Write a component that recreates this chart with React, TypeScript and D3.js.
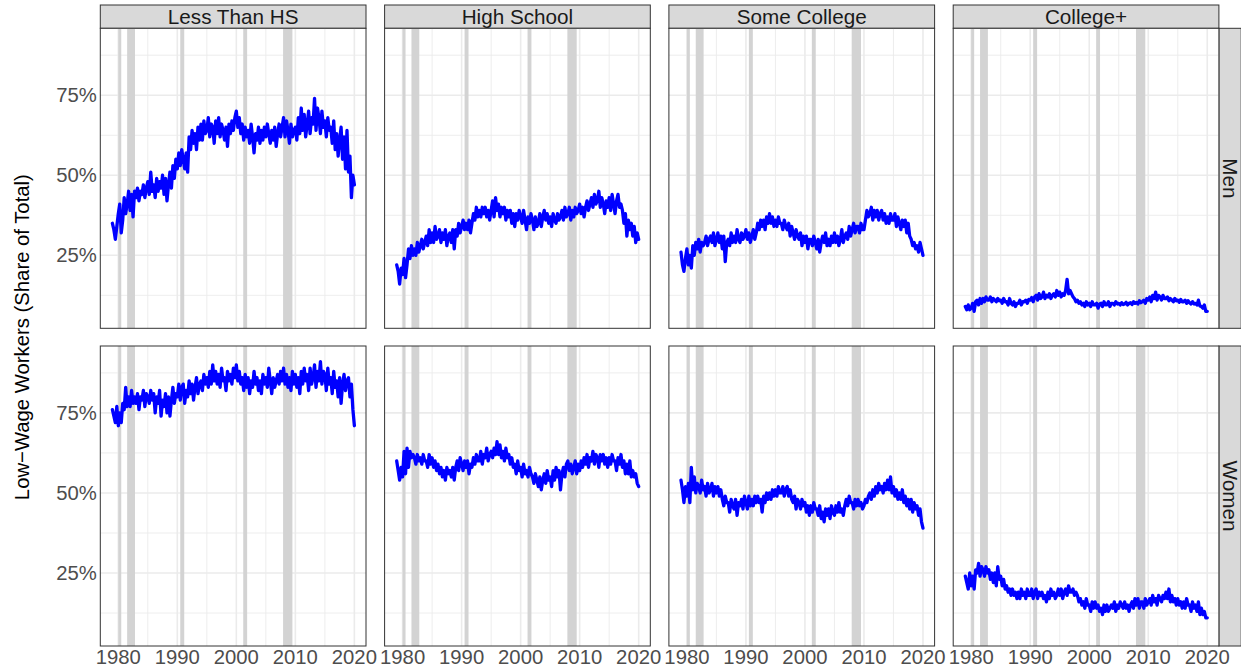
import React from "react";
import * as d3 from "d3";

// ---------- data ----------
const education = ["Less Than HS", "High School", "Some College", "College+"];
const sexes = ["Men", "Women"];

const startYear = 1979;
const stepsPerYear = 4;

const menLessThanHS = [
  35, 33, 30, 34, 38, 41, 32, 36, 43, 38, 41, 45, 39, 44, 37, 45,
  43, 46, 42, 45, 44, 47, 43, 46, 48, 44, 51, 45, 47, 43, 49, 45,
  48, 46, 50, 44, 49, 42, 47, 51, 46, 53, 49, 55, 52, 57, 53, 58,
  55, 52, 57, 51, 62, 58, 64, 60, 63, 58, 65, 61, 66, 61, 67, 63,
  64, 68, 62, 66, 65, 60, 67, 63, 68, 62, 66, 64, 61, 65, 59, 66,
  63, 67, 64, 68, 70, 65, 68, 63, 66, 61, 65, 62, 64, 60, 66, 62,
  57, 63, 61, 65, 60, 64, 61, 65, 62, 66, 63, 60, 64, 61, 65, 59,
  63, 66, 62, 65, 68, 62, 67, 64, 60, 66, 62, 64, 65, 61, 68, 63,
  71, 64, 69, 62, 66, 70, 63, 68, 66, 74, 64, 71, 68, 63, 70, 65,
  67, 62, 68, 64, 65, 60, 67, 58, 63, 56, 61, 65, 55, 62, 52, 64,
  51, 56, 43, 50, 47,
];
const menHighSchool = [
  22, 20, 16, 21, 19, 24, 18, 22, 27, 24, 28, 25, 27, 25, 29, 26,
  28, 30, 27, 29, 31, 28, 33, 29, 32, 29, 34, 30, 31, 33, 29, 32,
  30, 33, 28, 31, 32, 29, 33, 27, 33, 31, 35, 32, 34, 36, 33, 35,
  33, 36, 32, 35, 38, 36, 40, 37, 39, 37, 40, 38, 40, 37, 39, 36,
  39, 42, 37, 43, 39, 41, 37, 40, 38, 40, 36, 39, 37, 39, 35, 38,
  34, 38, 36, 39, 37, 35, 39, 36, 33, 37, 35, 38, 36, 33, 37, 34,
  35, 38, 34, 37, 39, 36, 38, 35, 37, 34, 38, 36, 35, 38, 36, 37,
  39, 36, 40, 37, 38, 40, 36, 39, 37, 40, 38, 39, 41, 38, 40, 37,
  40, 42, 39, 41, 43, 40, 44, 41, 42, 45, 40, 43, 41, 38, 42, 40,
  43, 39, 44, 41, 38, 42, 44, 40, 41, 39, 35, 38, 31, 36, 33, 35,
  31, 34, 29, 32, 30,
];
const menSomeCollege = [
  26, 22, 20, 24, 27, 22, 25, 21, 28, 25, 29, 27, 30, 26, 29, 28,
  29, 31, 28, 30, 31, 29, 32, 28, 30, 32, 29, 31, 27, 31, 23, 29,
  30, 28, 32, 29, 31, 29, 33, 30, 29, 32, 30, 31, 33, 30, 32, 29,
  31, 33, 30, 32, 35, 33, 36, 34, 36, 33, 37, 35, 38, 35, 37, 34,
  36, 34, 37, 35, 35, 33, 36, 34, 33, 35, 31, 34, 32, 30, 33, 31,
  30, 32, 28, 31, 29, 31, 27, 30, 30, 28, 31, 29, 27, 30, 26, 29,
  31, 29, 32, 28, 30, 28, 31, 29, 32, 29, 31, 28, 30, 33, 29, 31,
  32, 30, 34, 31, 33, 35, 32, 34, 34, 32, 35, 33, 33, 36, 39, 37,
  38, 40, 36, 39, 37, 39, 36, 38, 39, 36, 38, 35, 37, 35, 38, 36,
  36, 38, 34, 37, 35, 33, 36, 34, 36, 32, 35, 31, 30, 28, 29, 27,
  28, 26, 29, 27, 25,
];
const menCollegePlus = [
  9, 8, 9.5, 8, 8.5, 10, 7.5, 10.5, 11, 9.5, 11.5, 10, 11.5, 10.5, 12, 11,
  11, 12, 10.5, 11.5, 11, 10.5, 11.5, 10.8, 11, 10, 11.5, 10.5, 10.5, 9.5, 11.5, 10,
  9.5, 10.5, 9, 10, 10, 11, 9.5, 10.5, 10.5, 11, 10, 11.2, 11, 11.8, 10.5, 12,
  12.5, 11, 13, 11.5, 12, 13.5, 11.5, 12.5, 12, 13, 11.5, 12.5, 13, 12, 14, 12.5,
  13.5, 12, 13, 12.5, 14, 17.5, 13, 14, 13, 12, 11.5, 10.5, 11, 10, 10.5, 9.5,
  10, 9, 10.5, 9.5, 10, 9, 10.5, 9.5, 9.5, 10, 8.5, 9.8, 10, 9, 10.5, 9.5,
  9.5, 10.5, 9, 10, 10, 9.5, 10.5, 9.8, 10, 9.5, 10.2, 9.6, 9.8, 10.3, 9.5, 10,
  10.2, 9.6, 10.5, 10, 10.3, 9.8, 10.8, 10.2, 10.5, 11, 10, 11.5, 11, 12, 10.5, 12.5,
  11.5, 13.5, 11, 12.5, 12, 11, 12.5, 11.5, 11.5, 12, 10.8, 11.5, 11, 10.5, 11.5, 10.8,
  11, 10.3, 11.2, 10.5, 10.5, 11, 10, 10.8, 10.2, 9.8, 10.5, 9.8, 10, 9.5, 11, 9.2,
  9, 8.5, 9.5, 7.5, 7.5,
];
const womenLessThanHS = [
  76, 74, 72, 77, 71, 75, 72, 78, 76, 83, 77, 80, 77, 82, 78, 80,
  78, 81, 76, 80, 79, 82, 77, 81, 80, 78, 82, 79, 81, 75, 80, 78,
  82, 74, 79, 77, 81, 75, 80, 74, 79, 83, 78, 81, 80, 84, 79, 83,
  84, 78, 82, 80, 85, 81, 84, 79, 83, 86, 81, 84, 85, 82, 87, 84,
  86, 83, 88, 84, 90, 85, 88, 84, 87, 83, 89, 85, 86, 82, 88, 85,
  87, 84, 89, 86, 90, 85, 88, 84, 86, 82, 87, 83, 86, 81, 85, 83,
  88, 84, 86, 82, 85, 81, 87, 84, 86, 83, 89, 85, 81, 86, 83, 85,
  87, 84, 88, 85, 89, 84, 87, 83, 86, 82, 88, 84, 87, 83, 86, 81,
  88, 84, 89, 85, 87, 82, 89, 84, 86, 90, 83, 88, 85, 91, 84, 88,
  87, 82, 89, 84, 86, 81, 88, 83, 85, 80, 86, 78, 84, 87, 82, 85,
  86, 80, 84, 76, 71,
];
const womenHighSchool = [
  60, 57, 54, 58, 55, 63, 56, 64, 58, 63, 61, 62, 61, 59, 62, 60,
  61, 59, 62, 60, 60, 58, 62, 59, 61, 58, 60, 57, 59, 56, 58, 55,
  57, 54, 58, 56, 57, 55, 58, 54, 58, 60, 57, 61, 59, 57, 60, 58,
  60, 56, 59, 58, 61, 59, 62, 60, 60, 63, 59, 62, 61, 64, 60, 62,
  63, 61, 64, 62, 66, 62, 65, 61, 63, 60, 64, 61, 62, 59, 61, 58,
  59, 56, 60, 57, 58, 55, 59, 56, 57, 55, 58, 56, 55, 53, 56, 54,
  52, 55, 51, 54, 56, 53, 57, 54, 55, 52, 57, 54, 58, 55, 57, 51,
  56, 58, 55, 59, 60, 57, 59, 56, 58, 60, 56, 59, 57, 60, 58, 61,
  59, 62, 58, 61, 60, 63, 59, 62, 61, 58, 62, 60, 62, 59, 61, 58,
  61, 59, 62, 60, 60, 57, 61, 59, 62, 58, 60, 56, 59, 56, 60, 55,
  57, 55, 56, 53, 52,
];
const womenSomeCollege = [
  54, 51, 47, 52, 49, 53, 47, 58, 51, 55, 50, 53, 52, 50, 54, 51,
  52, 49, 53, 50, 51, 53, 49, 52, 50, 52, 49, 51, 48, 46, 49, 47,
  47, 44, 48, 46, 45, 48, 43, 47, 46, 48, 45, 49, 47, 45, 49, 46,
  48, 46, 49, 47, 49, 47, 48, 44, 49, 47, 50, 48, 50, 48, 51, 49,
  51, 49, 52, 50, 50, 52, 49, 51, 52, 49, 51, 48, 47, 49, 45, 48,
  47, 45, 48, 46, 47, 44, 46, 43, 46, 44, 47, 45, 45, 43, 46, 42,
  44, 41, 45, 43, 45, 42, 46, 44, 43, 46, 44, 47, 44, 45, 43, 46,
  48, 46, 49, 47, 47, 45, 48, 46, 48, 46, 47, 45, 46, 48, 47, 49,
  50, 48, 51, 49, 52, 50, 53, 51, 52, 50, 53, 51, 54, 51, 55, 50,
  52, 49, 51, 48, 50, 48, 51, 47, 49, 46, 48, 45, 48, 44, 47, 45,
  46, 43, 45, 41, 39,
];
const womenCollegePlus = [
  24, 22, 20, 25, 21, 24, 20, 26, 25, 28, 24, 27, 26, 24, 27, 25,
  26, 23, 25, 22, 25, 21, 27, 23, 24, 21, 23, 20, 21, 19, 20, 18,
  20, 18, 19, 17, 19, 17, 20, 18, 19, 17, 20, 18, 18, 20, 17, 19,
  20, 17, 19, 18, 19, 17, 18, 16, 19, 17, 20, 18, 19, 17, 18, 20,
  18, 20, 17, 19, 20, 18, 21, 19, 19, 20, 18, 19, 18, 16, 17, 15,
  16, 14, 17, 15, 15, 13, 16, 14, 16, 14, 15, 13, 14, 12, 15, 13,
  15, 13, 14, 15, 14, 16, 13, 15, 14, 16, 15, 14, 16, 14, 15, 13,
  15, 16, 14, 17, 15, 17, 14, 16, 16, 14, 17, 15, 16, 17, 15, 18,
  16, 17, 15, 18, 17, 16, 18, 17, 19, 17, 20, 16, 18, 16, 17, 15,
  17, 15, 16, 14, 16, 14, 17, 15, 15, 13, 16, 14, 15, 13, 16, 12,
  14, 12, 13, 11, 11,
];

const seriesGrid = [
  [menLessThanHS, menHighSchool, menSomeCollege, menCollegePlus],
  [womenLessThanHS, womenHighSchool, womenSomeCollege, womenCollegePlus],
];

const recessionStart = [1980.0, 1981.5, 1990.5, 2001.17, 2007.92];
const recessionEnd = [1980.5, 1982.83, 1991.17, 2001.83, 2009.5];

const xMajorTicks = [1980, 1990, 2000, 2010, 2020];
const xMinorTicks = [1985, 1995, 2005, 2015];
const yMajorTicks = [25, 50, 75];
const yMajorLabels = ["25%", "50%", "75%"];
const yMinorTicks = [12.5, 37.5, 62.5, 87.5];

const yTitle = "Low\u2212Wage Workers (Share of Total)";

// ---------- layout ----------
const W = 1241;
const H = 670;
const panelLefts = [100.3, 384.6, 668.9, 953.2];
const panelW = 265.7;
const rowTops = [28.3, 346];
const panelH = 300;
const stripTop = 5;
const stripRightW = 22.3;
const FONT = "'Liberation Sans', Arial, Helvetica, sans-serif";

export default function App() {
  const x = d3.scaleLinear().domain([1976.95, 2021.97]).range([0, panelW]);
  const y = d3.scaleLinear().domain([2.2, 95.9]).range([panelH, 0]);
  const line = d3
    .line<number>()
    .x((_, i) => x(startYear + i / stepsPerYear))
    .y((d) => y(d));

  return (
    <svg
      width={W}
      height={H}
      style={{ position: "absolute", left: 0, top: 0, background: "#fff" }}
      fontFamily={FONT}
    >
      <rect x={0} y={0} width={W} height={H} fill="#fff" />
      {/* y title */}
      <text
        transform={`translate(${22},${(rowTops[0] + rowTops[1] + panelH) / 2}) rotate(-90)`}
        textAnchor="middle"
        dominantBaseline="central"
        fontSize={20.3}
        fill="#000"
      >
        {yTitle}
      </text>

      {/* column strips */}
      {education.map((ed, c) => (
        <g key={ed} transform={`translate(${panelLefts[c]},${stripTop})`}>
          <rect
            x={0}
            y={0}
            width={panelW}
            height={rowTops[0] - stripTop}
            fill="#d9d9d9"
            stroke="#333"
            strokeWidth={1}
          />
          <text
            x={panelW / 2}
            y={(rowTops[0] - stripTop) / 2 + 7.3}
            textAnchor="middle"
            fontSize={20.7}
            fill="#1a1a1a"
          >
            {ed}
          </text>
        </g>
      ))}

      {/* row strips */}
      {sexes.map((s, r) => (
        <g key={s} transform={`translate(${panelLefts[3] + panelW},${rowTops[r]})`}>
          <rect
            x={0}
            y={0}
            width={stripRightW}
            height={panelH}
            fill="#d9d9d9"
            stroke="#333"
            strokeWidth={1}
          />
          <text
            transform={`translate(${stripRightW / 2 - 7.3},${panelH / 2}) rotate(90)`}
            textAnchor="middle"
            fontSize={20.7}
            fill="#1a1a1a"
          >
            {s}
          </text>
        </g>
      ))}

      {sexes.map((s, r) =>
        education.map((ed, c) => {
          const data = seriesGrid[r][c];
          return (
            <g key={`${s}-${ed}`} transform={`translate(${panelLefts[c]},${rowTops[r]})`}>
              <rect x={0} y={0} width={panelW} height={panelH} fill="#fff" />
              {/* minor grid */}
              {yMinorTicks.map((t) => (
                <line key={`ym${t}`} x1={0} x2={panelW} y1={y(t)} y2={y(t)} stroke="#ebebeb" strokeWidth={0.9} />
              ))}
              {xMinorTicks.map((t) => (
                <line key={`xm${t}`} x1={x(t)} x2={x(t)} y1={0} y2={panelH} stroke="#ebebeb" strokeWidth={0.9} />
              ))}
              {/* major grid */}
              {yMajorTicks.map((t) => (
                <line key={`yM${t}`} x1={0} x2={panelW} y1={y(t)} y2={y(t)} stroke="#ebebeb" strokeWidth={1.6} />
              ))}
              {xMajorTicks.map((t) => (
                <line key={`xM${t}`} x1={x(t)} x2={x(t)} y1={0} y2={panelH} stroke="#ebebeb" strokeWidth={1.6} />
              ))}
              {/* recessions */}
              {recessionStart.map((rs, i) => (
                <rect
                  key={`rec${i}`}
                  x={x(rs)}
                  y={0}
                  width={x(recessionEnd[i]) - x(rs)}
                  height={panelH}
                  fill="#d3d3d3"
                />
              ))}
              {/* line */}
              <path
                d={line(data) || ""}
                fill="none"
                stroke="#0000ff"
                strokeWidth={3.3}
                strokeLinejoin="round"
                strokeLinecap="round"
              />
              {/* border */}
              <rect x={0} y={0} width={panelW} height={panelH} fill="none" stroke="#333" strokeWidth={1} />
              {/* y labels */}
              {c === 0 &&
                yMajorTicks.map((t, i) => (
                  <text
                    key={`yl${t}`}
                    x={-3.5}
                    y={y(t)}
                    textAnchor="end"
                    dominantBaseline="central"
                    fontSize={20.3}
                    fill="#4d4d4d"
                  >
                    {yMajorLabels[i]}
                  </text>
                ))}
              {/* x labels */}
              {r === 1 &&
                xMajorTicks.map((t) => (
                  <text
                    key={`xl${t}`}
                    x={x(t)}
                    y={panelH + 17.5}
                    textAnchor="middle"
                    fontSize={20.3}
                    fill="#4d4d4d"
                  >
                    {t}
                  </text>
                ))}
            </g>
          );
        })
      )}
    </svg>
  );
}
